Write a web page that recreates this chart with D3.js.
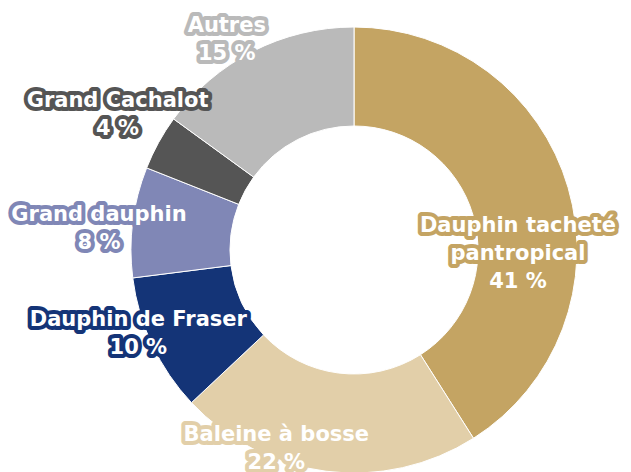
<!DOCTYPE html>
<html>
<head>
    <meta charset="UTF-8">
    <title>Observations de cétacés</title>
    <script src="https://d3js.org/d3.v7.min.js"></script>
    <style>
        body { margin: 0; background: #fff; }
        .lbl { font-family: "DejaVu Sans", sans-serif; font-weight: bold; font-size: 21px; }
    </style>
</head>
<body>
    <div id="chart"></div>
    <script type="text/javascript">

        // data
        let species = ["Dauphin tacheté pantropical", "Baleine à bosse", "Dauphin de Fraser",
                       "Grand dauphin", "Grand Cachalot", "Autres"];
        let shares = [41, 22, 10, 8, 4, 15];
        let colors = ["#c4a463", "#e2cfa9", "#143477", "#8087b6", "#555555", "#bababa"];
        // label lines (name may wrap on two lines)
        let labelLines = [["Dauphin tacheté", "pantropical"], ["Baleine à bosse"], ["Dauphin de Fraser"],
                          ["Grand dauphin"], ["Grand Cachalot"], ["Autres"]];

        let width = 631, height = 472;
        let cx = 354, cy = 250, outer = 223, inner = 124;

        let svg = d3.select("#chart").append("svg")
            .attr("width", width).attr("height", height);

        let g = svg.append("g").attr("transform", "translate(" + cx + "," + cy + ")");

        let rows = species.map((s, i) => ({ name: s, value: shares[i], color: colors[i], lines: labelLines[i] }));

        let pie = d3.pie().value(d => d.value).sort(null);
        let arc = d3.arc().innerRadius(inner).outerRadius(outer);
        let arcs = pie(rows);

        g.selectAll("path.slice")
            .data(arcs)
            .enter()
            .append("path")
            .attr("class", "slice")
            .attr("d", arc)
            .attr("fill", d => d.data.color)
            .attr("stroke", "#fff")
            .attr("stroke-width", 1);

        // label placement: polar point (deg from top, radius) for the label block centre
        let labelPos = {
            "Dauphin tacheté pantropical": [91, 164],
            "Baleine à bosse": [201.5, 212],
            "Dauphin de Fraser": [249, 231],
            "Grand dauphin": [275, 256],
            "Grand Cachalot": [300, 273],
            "Autres": [329, 247]
        };
        let lineH = 28;

        arcs.forEach(function (d) {
            let p = labelPos[d.data.name];
            let a = p[0] * Math.PI / 180;
            let x = p[1] * Math.sin(a), y = -p[1] * Math.cos(a);
            let lines = d.data.lines.concat([d.data.value + "\u00a0%"]);
            let y0 = y - (lines.length - 1) * lineH / 2;
            let t = g.append("text")
                .attr("class", "lbl")
                .attr("text-anchor", "middle")
                .attr("fill", "#fff")
                .attr("stroke", d.data.color)
                .attr("stroke-width", 8)
                .attr("stroke-linejoin", "round")
                .attr("paint-order", "stroke");
            lines.forEach(function (l, j) {
                t.append("tspan")
                    .attr("x", x)
                    .attr("y", y0 + j * lineH)
                    .attr("dy", "0.35em")
                    .text(l);
            });
        });

    </script>
</body>
</html>
